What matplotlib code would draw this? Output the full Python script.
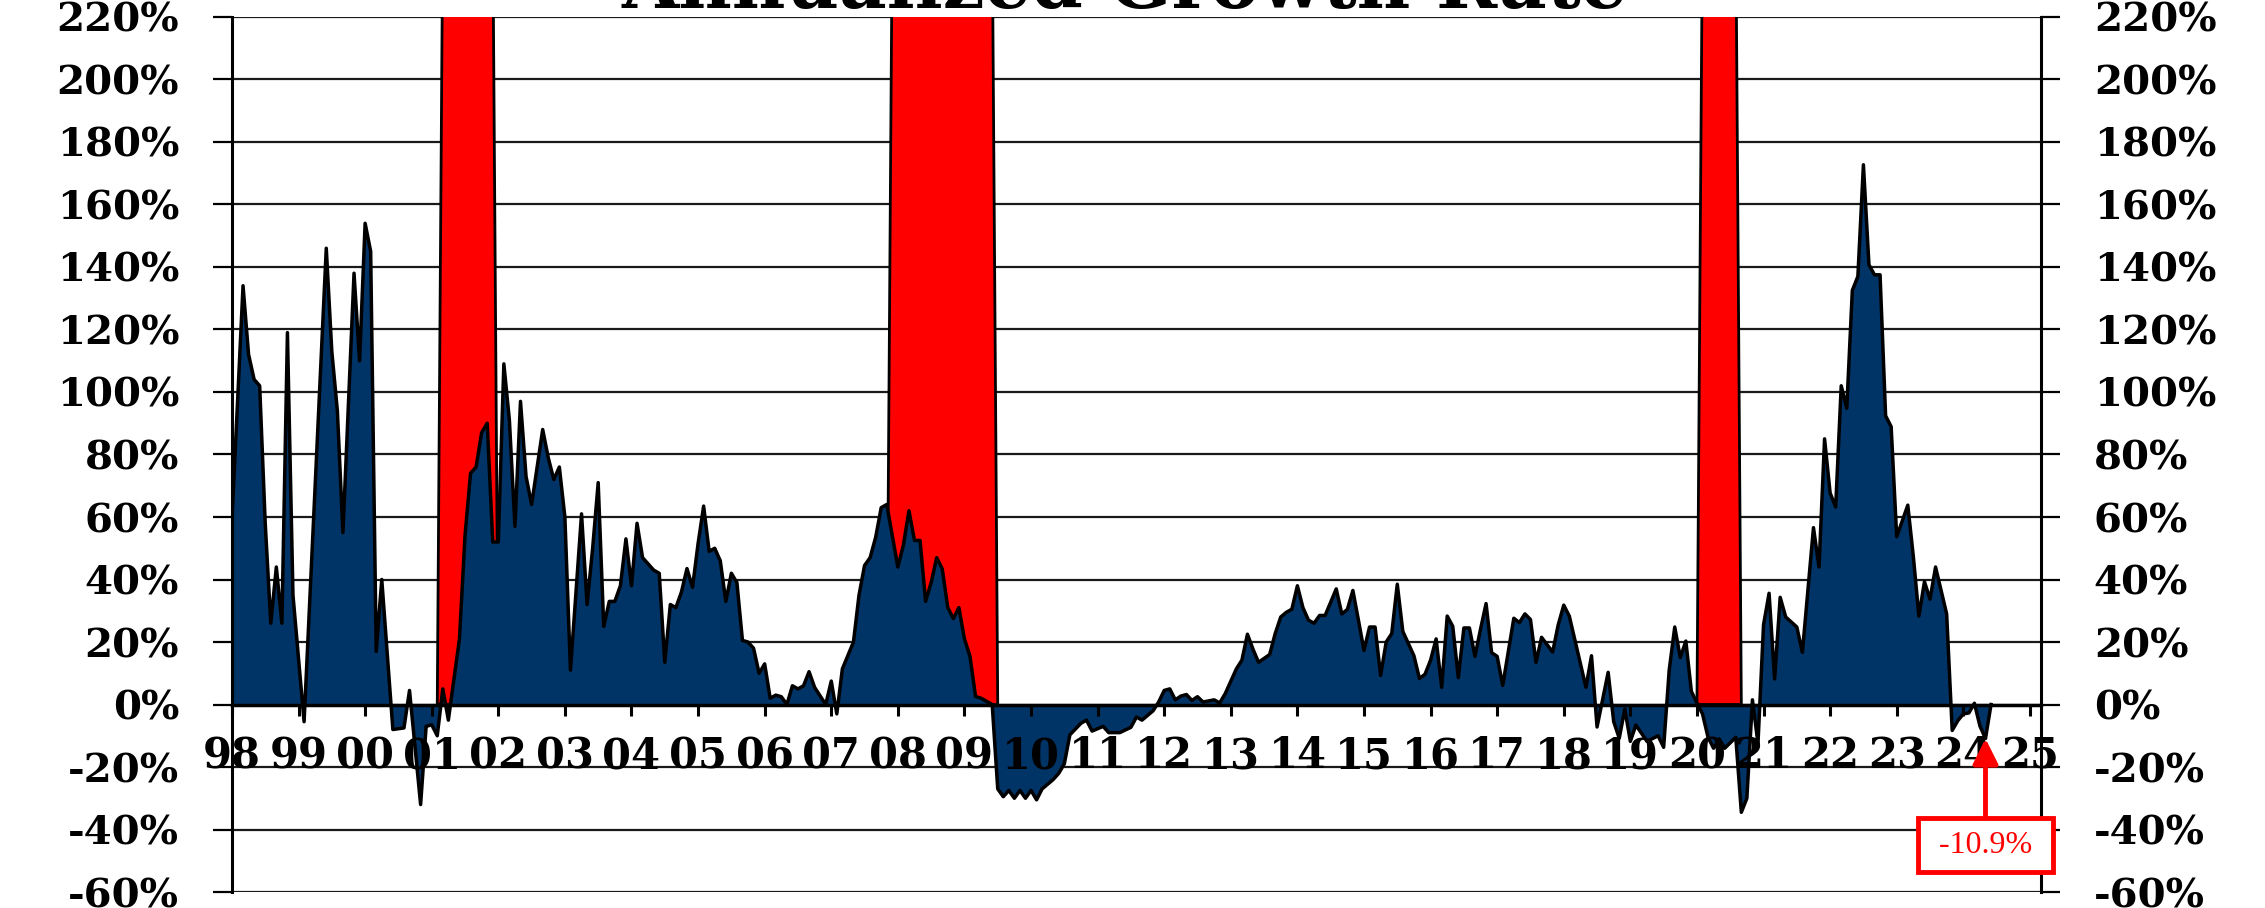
import matplotlib as mpl
mpl.use('Agg')
import matplotlib.pyplot as plt

# month index counted from Jan 1998 and annualized growth (%)
obs_month = [
    0, 2, 3, 4, 5, 6, 7, 8, 9, 10, 11,                  # 98
    13, 17, 18, 19, 20, 22, 23,                         # 99
    24, 25, 26, 27, 29, 31, 32, 34, 35,                 # 00
    36, 37, 38, 39, 41, 42, 43, 44, 45, 46, 47,         # 01
    48, 49, 50, 51, 52, 53, 54, 56, 57, 58, 59,         # 02
    60, 61, 63, 64, 65, 66, 67, 68, 69, 70, 71,         # 03
    72, 73, 74, 75, 76, 77, 78, 79, 80, 81, 82, 83,     # 04
    84, 85, 86, 87, 88, 89, 90, 91, 92, 93, 94, 95,     # 05
    96, 97, 98, 99, 100, 101, 102, 103, 104, 105, 107,  # 06
    108, 109, 110, 112, 113, 114, 115, 116, 117, 118,   # 07
    120, 121, 122, 123, 124, 125, 126, 127, 128, 129, 130, 131,  # 08
    132, 133, 134, 135, 137, 138, 139, 140, 141, 142, 143,       # 09
    144, 145, 146, 147, 148, 149, 150, 151, 153, 154, 155,       # 10
    157, 158, 160, 162, 163, 164, 165, 166, 167,                 # 11
    168, 169, 170, 171, 172, 173, 174, 175, 177, 178, 179,       # 12
    181, 182, 183, 184, 185, 187, 188, 189, 190, 191,            # 13
    192, 193, 194, 195, 196, 197, 199, 200, 201, 202, 203,       # 14
    204, 205, 206, 207, 208, 209, 210, 211, 213, 214, 215,       # 15
    216, 217, 218, 219, 220, 221, 222, 223, 224, 225, 226, 227,  # 16
    228, 229, 231, 232, 233, 234, 235, 236, 238, 239,            # 17
    240, 241, 244, 245, 246, 248, 249, 250, 251,                 # 18
    252, 253, 255, 257, 258, 259, 260, 261, 262, 263,            # 19
    264, 265, 266, 267, 268, 269, 271, 272, 273, 274, 275,       # 20
    276, 277, 278, 279, 280, 282, 283, 285, 286, 287,            # 21
    288, 289, 290, 291, 292, 293, 294, 295, 296, 297, 298, 299,  # 22
    300, 302, 303, 304, 305, 306, 307, 309, 310, 311,            # 23
    312, 313, 314, 315, 316,                                     # 24
]
growth_pct = [
    59, 134, 112, 104, 102, 58, 26, 44, 26, 119, 35,
    -5.5, 146, 113, 94, 55, 138, 110,
    154, 145, 17, 40, -8, -7.5, 4.5, -32, -7,
    -6.5, -10, 5, -5, 21, 54, 74, 76, 87, 90, 52,
    52, 109, 91, 57, 97, 73, 64, 88, 79, 72, 76,
    60, 11, 61, 32, 50, 71, 25, 33, 33, 38, 53,
    38, 58, 47, 45, 43, 42, 13.5, 32, 31, 36, 43.5, 37.5,
    51.5, 63.5, 49, 50, 46, 33, 42, 39, 20.5, 20, 18, 10,
    13, 2, 3, 2.5, 0, 6, 5, 6, 10.5, 5.5, 0,
    7.5, -3, 11.4, 20, 35, 44.5, 47, 53.5, 63, 64,
    44, 51, 62, 52.5, 52.5, 33, 39, 47, 43.4, 31, 27.5, 31,
    21, 15.4, 2.6, 2, 0, -27, -29.5, -27.5, -30, -27.5, -30,
    -27.5, -30.5, -27, -25.5, -24, -22, -19, -9.7, -6, -5, -8.5,
    -7, -9, -9, -7.3, -4, -5, -3.5, -2, 0.8,
    4.5, 5, 1.5, 2.7, 3.2, 1.3, 2.5, 0.8, 1.5, 0.5, 3.5,
    11.4, 14.2, 22.5, 17.7, 13.5, 16, 22.7, 28, 29.5, 30.5,
    38, 31, 27, 26, 28.5, 28.5, 37, 29, 30.4, 36.5, 27,
    17.3, 24.8, 24.8, 9.3, 20, 22.7, 38.5, 23.4, 15.6, 8.3, 9.7,
    14.2, 21, 5.5, 28.3, 25, 8.6, 24.5, 24.5, 15.4, 24.1, 32.3, 16.6,
    15.4, 6.1, 27.6, 26.2, 29, 27.2, 13.5, 21.5, 16.8, 25.5,
    31.8, 28.3, 5.5, 15.6, -7.2, 10.3, -5.5, -10.8, -1.5,
    -11.8, -6.6, -11.8, -10, -13.7, 11, 24.8, 15, 20.3, 4.2,
    0.5, -3, -10.5, -14, -11, -14, -10.5, -34.5, -30, 1.5, -12.5,
    25.5, 35.6, 8.2, 34.3, 28, 24.8, 16.7, 56.6, 44, 85,
    67.7, 63.2, 102, 94.8, 132.5, 137, 172.7, 140.7, 137.5, 137.5, 92.4, 88.9,
    53.7, 63.8, 47.3, 28.3, 39.3, 33.7, 44, 29, -8.3, -5.2,
    -3, -2.7, 0.4, -6.9, -10.9,
]

year_labels = ['98', '99', '00', '01', '02', '03', '04', '05', '06', '07',
               '08', '09', '10', '11', '12', '13', '14', '15', '16', '17',
               '18', '19', '20', '21', '22', '23', '24', '25']
y_ticks = [-60, -40, -20, 0, 20, 40, 60, 80, 100, 120, 140, 160, 180, 200, 220]

# recession shading (an area series in the original), first/last month
recession_start = [38, 119, 265]
recession_end = [47, 137, 271]
recession_level = 250

last_label = '-10.9%'

plt.rcParams['font.family'] = 'DejaVu Serif'
plt.rcParams['font.weight'] = 'bold'

fig = plt.figure(figsize=(22.65, 9.08), dpi=100)
ax = fig.add_axes([0.1024, 0.0176, 0.7987, 0.9637])
ax.set_xlim(0, 326)
ax.set_ylim(-60, 220)

for v in y_ticks:
    ax.axhline(v, color='#1a1a1a', lw=1.6, zorder=0.5)

for s, e in zip(recession_start, recession_end):
    ax.fill([s - 1, s, e, e + 1], [0, recession_level, recession_level, 0],
            facecolor='#ff0000', edgecolor='black', lw=2, zorder=1)

# after the last reading the area drops back to zero (blank months)
xs = obs_month + [obs_month[-1] + 1]
ys = growth_pct + [0]
ax.fill_between(xs, ys, 0, color='#003366', lw=0, zorder=1.5)
ax.plot(xs, ys, color='black', lw=2.5, zorder=2)

ax.spines['top'].set_visible(False)
ax.spines['bottom'].set_position(('data', 0))
ax.spines['bottom'].set_linewidth(2.5)
ax.spines['left'].set_linewidth(2.2)
ax.spines['right'].set_linewidth(2.2)

ax.set_xticks(range(0, 12 * len(year_labels), 12))
ax.set_xticklabels(year_labels)
ax.tick_params(axis='x', direction='out', length=8, width=2.2, pad=14, labelsize=30)

ax.set_yticks(y_ticks)
ax.set_yticklabels(['%d%%' % v for v in y_ticks])
ax.tick_params(axis='y', left=True, right=True, labelleft=True, labelright=True,
               direction='out', length=14, width=1.6, pad=24, labelsize=29)

ax.annotate(' %s ' % last_label, xy=(obs_month[-1], growth_pct[-1]),
            xytext=(obs_month[-1], -45), textcoords='data',
            ha='center', va='center', fontsize=23, color='red',
            family='Liberation Serif', fontweight='normal',
            bbox=dict(boxstyle='square,pad=0.4', fc='white', ec='red', lw=3.5),
            arrowprops=dict(arrowstyle='-|>', color='red', lw=3.5,
                            mutation_scale=38, shrinkA=0, shrinkB=0),
            annotation_clip=False, zorder=5)

fig.text(0.4967, 1 - 8 / 908., 'Annualized Growth Rate', ha='center', va='baseline',
         fontsize=53, fontweight='bold')

fig.savefig('out.png', dpi=100)
